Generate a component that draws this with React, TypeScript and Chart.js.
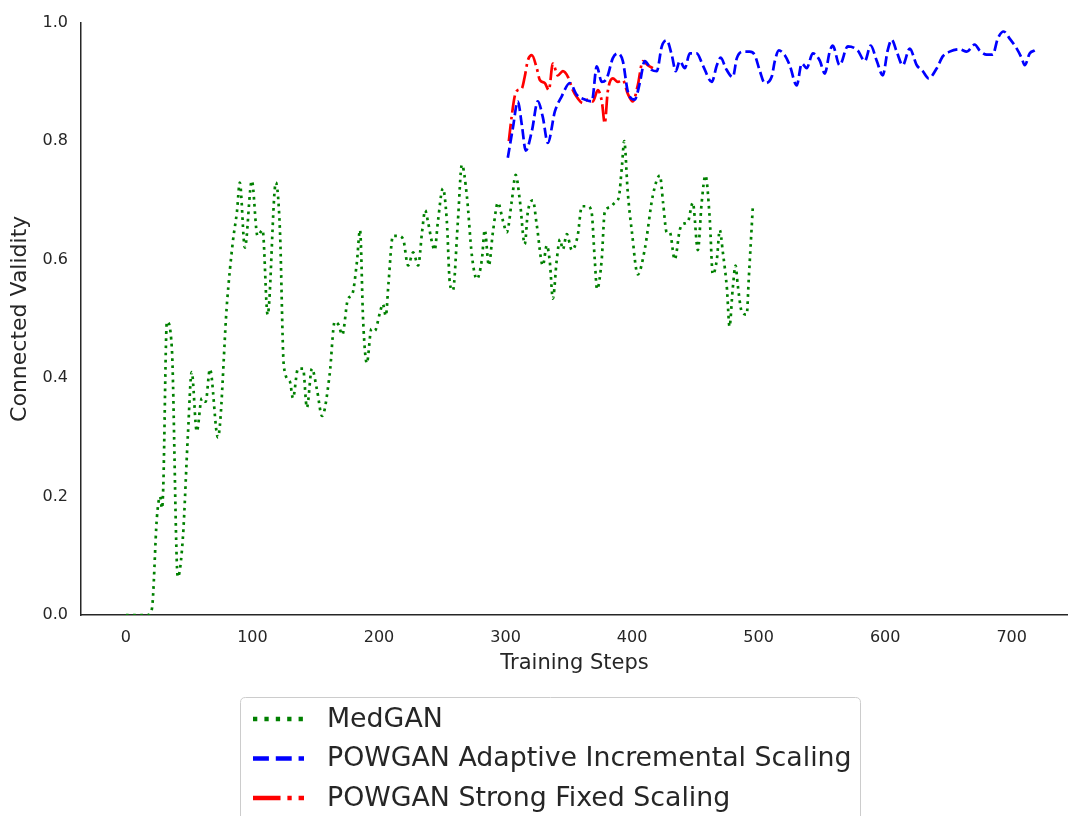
import React, { useEffect, useRef } from "react";
import { Chart, registerables } from "chart.js";

Chart.register(...registerables);
Chart.defaults.font.family = "'DejaVu Sans', 'Liberation Sans', sans-serif";

// ---- tick labels ----
const xTickValues = [0, 100, 200, 300, 400, 500, 600, 700];
const yTickValues = [0, 0.2, 0.4, 0.6, 0.8, 1.0];

// ---- series labels ----
const seriesLabels = [
  "MedGAN",
  "POWGAN Adaptive Incremental Scaling",
  "POWGAN Strong Fixed Scaling",
];

// ---- MedGAN ----
const medganSteps = [
  0, 9.5, 17, 20.5, 24.5, 27, 28.5, 29.5, 32.4, 36.3, 41, 45, 49, 52, 56, 60, 63, 66.4, 72.7, 80,
  84.5, 87.7, 90, 94, 99.5, 104, 108, 112, 118.5, 121.7, 124.8, 129.6, 132, 136, 140, 143, 147, 151,
  155, 161, 165, 168, 171, 175.4, 179, 182.5, 185, 187.5, 190.4, 194, 196.7, 200.7, 203, 205.4, 207.5,
  211, 215, 219, 223, 227, 231, 234, 236.5, 238.6, 241.8, 244, 246.5, 250.5, 253.6, 256, 258.4, 262.3,
  265.5, 269.4, 273.4, 277.3, 281.3, 283.6, 286.8, 290, 294, 298, 301, 305, 308, 311.3, 315.2, 317.6,
  321.6, 324.7, 329.5, 332.6, 335, 337.4, 340.5, 343, 345.3, 348.4, 352.4, 357, 360.3, 365, 368, 370.5,
  372.3, 376, 378.4, 382.4, 386.3, 389.5, 392, 393.8, 396.6, 399.8, 404.5, 410, 416.4, 422, 424.5,
  427.4, 429.8, 433.7, 437.7, 440, 444, 448, 452, 455, 458, 461.4, 463.8, 467, 469.3, 471.7, 475, 477,
  479.5, 481.8, 483.5, 486.7, 490.6, 492.2, 495.4,
];
const medganValues = [
  0, 0, 0, 0.01, 0.165, 0.2, 0.18, 0.215, 0.495, 0.45, 0.064, 0.13, 0.305, 0.41, 0.31, 0.366, 0.36,
  0.415, 0.3, 0.53, 0.63, 0.68, 0.73, 0.62, 0.733, 0.64, 0.65, 0.507, 0.73, 0.65, 0.42, 0.394, 0.366,
  0.416, 0.416, 0.35, 0.416, 0.38, 0.336, 0.406, 0.495, 0.49, 0.473, 0.533, 0.542, 0.595, 0.65, 0.495,
  0.425, 0.483, 0.48, 0.51, 0.525, 0.505, 0.56, 0.64, 0.64, 0.635, 0.59, 0.612, 0.59, 0.646, 0.683,
  0.665, 0.63, 0.616, 0.663, 0.72, 0.665, 0.56, 0.548, 0.663, 0.76, 0.708, 0.607, 0.567, 0.6, 0.65,
  0.59, 0.646, 0.696, 0.665, 0.646, 0.7, 0.743, 0.7, 0.626, 0.68, 0.7, 0.658, 0.59, 0.624, 0.596, 0.534,
  0.6, 0.634, 0.617, 0.643, 0.616, 0.64, 0.69, 0.69, 0.68, 0.6, 0.55, 0.6, 0.68, 0.688, 0.696, 0.705,
  0.758, 0.8, 0.713, 0.648, 0.575, 0.617, 0.708, 0.742, 0.696, 0.646, 0.646, 0.6, 0.65, 0.66, 0.663,
  0.696, 0.616, 0.696, 0.742, 0.668, 0.575, 0.6, 0.65, 0.613, 0.55, 0.487, 0.55, 0.59, 0.557, 0.512,
  0.507, 0.567, 0.688,
];

// ---- POWGAN Adaptive Incremental Scaling ----
const adaptiveSteps = [
  301.8, 305.8, 309.7, 312.9, 316, 320.8, 325.5, 329.5, 333.4, 339, 344.5, 350.8, 356.3, 362.6, 368.2,
  372.1, 376, 380, 384.8, 388.7, 392.7, 396.6, 402.1, 406.1, 410, 415.6, 419.5, 423.5, 427.4, 431.4,
  434.5, 437.7, 441.7, 445.6, 451.1, 455.9, 463, 467, 470.1, 474, 479.6, 482.8, 487.5, 493, 497, 501,
  504.9, 510.4, 512.8, 516, 520.7, 524.6, 530.1, 534.1, 538, 542.8, 548.3, 552.3, 556.2, 558.6, 564,
  570.5, 578.3, 583.9, 588.6, 593.4, 598.1, 602, 605.2, 609.1, 613.9, 619.4, 625, 629.7, 634.4, 640.8,
  645.5, 651, 658.9, 664.5, 670.8, 674.7, 680.3, 685, 689, 693.7, 698.4, 704, 707.9, 710.3, 714.2, 718.2,
];
const adaptiveValues = [
  0.772, 0.822, 0.867, 0.827, 0.784, 0.817, 0.867, 0.84, 0.797, 0.85, 0.876, 0.898, 0.878, 0.87, 0.867,
  0.926, 0.9, 0.906, 0.94, 0.948, 0.935, 0.884, 0.87, 0.898, 0.935, 0.92, 0.918, 0.96, 0.97, 0.945,
  0.918, 0.935, 0.923, 0.948, 0.948, 0.928, 0.9, 0.928, 0.941, 0.923, 0.908, 0.94, 0.951, 0.951, 0.945,
  0.918, 0.898, 0.909, 0.935, 0.953, 0.945, 0.928, 0.894, 0.931, 0.923, 0.948, 0.936, 0.914, 0.951,
  0.961, 0.928, 0.96, 0.953, 0.935, 0.961, 0.935, 0.911, 0.953, 0.971, 0.951, 0.928, 0.956, 0.928,
  0.918, 0.906, 0.923, 0.943, 0.951, 0.955, 0.951, 0.963, 0.953, 0.946, 0.946, 0.973, 0.985, 0.973,
  0.956, 0.94, 0.928, 0.948, 0.953,
];

// ---- POWGAN Strong Fixed Scaling ----
const strongSteps = [
  302.6, 305, 307.3, 309.7, 312.9, 315.2, 317.6, 320.8, 324.7, 327.1, 331, 334.2, 337.4, 341.3, 345.3,
  349.2, 353.2, 357.1, 361.1, 365, 369, 372.9, 376.1, 378.4, 380.8, 384.8, 388.7, 392.7, 396.6, 400.6,
  404.5, 408.5, 412.4, 416.4,
];
const strongValues = [
  0.8, 0.844, 0.876, 0.886, 0.889, 0.909, 0.936, 0.945, 0.923, 0.903, 0.898, 0.886, 0.931, 0.911, 0.918,
  0.909, 0.886, 0.872, 0.864, 0.87, 0.867, 0.886, 0.867, 0.83, 0.884, 0.906, 0.9, 0.903, 0.88, 0.867,
  0.894, 0.935, 0.928, 0.923,
];

const seriesColors = ["#008000", "#0000ff", "#ff0000"];
const LW = 2.7;
const LEG_LW = 4.3;
const dashFor = (w: number) => [
  [w, 1.65 * w],
  [3.7 * w, 1.6 * w],
  [6.4 * w, 1.6 * w, w, 1.6 * w],
];

const textColor = "#262626";

const toPoints = (xs: number[], ys: number[]) => xs.map((x, i) => ({ x, y: ys[i] }));

const boxLegend = {
  id: "boxLegend",
  afterDraw(chart: any) {
    const ctx = chart.ctx as CanvasRenderingContext2D;
    ctx.save();
    const bx = 240.5, by = 697.5, bw = 620, bh = 150, r = 5;
    ctx.beginPath();
    ctx.moveTo(bx + r, by);
    ctx.lineTo(bx + bw - r, by);
    ctx.quadraticCurveTo(bx + bw, by, bx + bw, by + r);
    ctx.lineTo(bx + bw, by + bh);
    ctx.lineTo(bx, by + bh);
    ctx.lineTo(bx, by + r);
    ctx.quadraticCurveTo(bx, by, bx + r, by);
    ctx.closePath();
    ctx.fillStyle = "rgba(255,255,255,0.8)";
    ctx.fill();
    ctx.strokeStyle = "#cccccc";
    ctx.lineWidth = 1;
    ctx.stroke();
    const dashes = dashFor(LEG_LW);
    chart.data.datasets.forEach((ds: any, i: number) => {
      const y = 719 + i * 39.5;
      ctx.setLineDash(dashes[i]);
      ctx.lineCap = "butt";
      ctx.strokeStyle = ds.borderColor;
      ctx.lineWidth = LEG_LW;
      ctx.beginPath();
      ctx.moveTo(253, y);
      ctx.lineTo(304, y);
      ctx.stroke();
      ctx.setLineDash([]);
      ctx.fillStyle = textColor;
      ctx.font = "26.8px 'DejaVu Sans'";
      ctx.textBaseline = "middle";
      ctx.textAlign = "left";
      ctx.fillText(ds.label, 327, y + 1);
    });
    ctx.restore();
  },
};

export default function App() {
  const canvasRef = useRef<HTMLCanvasElement | null>(null);

  useEffect(() => {
    document.body.style.margin = "0";
    const canvas = canvasRef.current;
    if (!canvas) return;
    const dashes = dashFor(LW);
    const xs = [medganSteps, adaptiveSteps, strongSteps];
    const ys = [medganValues, adaptiveValues, strongValues];
    const chart = new Chart(canvas, {
      type: "line",
      data: {
        datasets: seriesLabels.map((label, i) => ({
          label,
          data: toPoints(xs[i], ys[i]),
          borderColor: seriesColors[i],
          backgroundColor: seriesColors[i],
          borderWidth: LW,
          borderDash: dashes[i],
          borderCapStyle: "butt",
          cubicInterpolationMode: "monotone",
          pointRadius: 0,
          fill: false,
        })),
      },
      options: {
        animation: false,
        responsive: false,
        layout: { padding: { top: 19, right: 0, bottom: 139, left: 0 } },
        plugins: { legend: { display: false }, tooltip: { enabled: false } },
        scales: {
          x: {
            type: "linear",
            min: -35.5,
            max: 744.5,
            afterBuildTicks: (s: any) => {
              s.ticks = xTickValues.map((v) => ({ value: v }));
            },
            afterFit: (s: any) => {
              s.height = 62;
            },
            grid: { display: false, drawTicks: false, tickLength: 0 },
            border: { display: true, color: textColor, width: 1.5 },
            ticks: {
              color: textColor,
              font: { size: 16 },
              padding: 13,
              maxRotation: 0,
              autoSkip: false,
              callback: (v: any) => String(v),
            },
            title: {
              display: true,
              text: "Training Steps",
              color: textColor,
              font: { size: 21 },
              padding: { top: 0, bottom: 1 },
            },
          },
          y: {
            type: "linear",
            min: 0,
            max: 1,
            afterBuildTicks: (s: any) => {
              s.ticks = yTickValues.map((v) => ({ value: v }));
            },
            afterFit: (s: any) => {
              s.width = 81;
            },
            grid: { display: false, drawTicks: false, tickLength: 0 },
            border: { display: true, color: textColor, width: 1.5 },
            ticks: {
              color: textColor,
              font: { size: 16 },
              padding: 13,
              autoSkip: false,
              callback: (v: any) => Number(v).toFixed(1),
            },
            title: {
              display: true,
              text: "Connected Validity",
              color: textColor,
              font: { size: 22 },
              padding: { top: 7, bottom: 0 },
            },
          },
        },
      },
      plugins: [boxLegend],
    } as any);
    return () => chart.destroy();
  }, []);

  return (
    <div style={{ width: 1068, height: 816, background: "#fff" }}>
      <canvas ref={canvasRef} width={1068} height={816} style={{ display: "block" }} />
    </div>
  );
}
